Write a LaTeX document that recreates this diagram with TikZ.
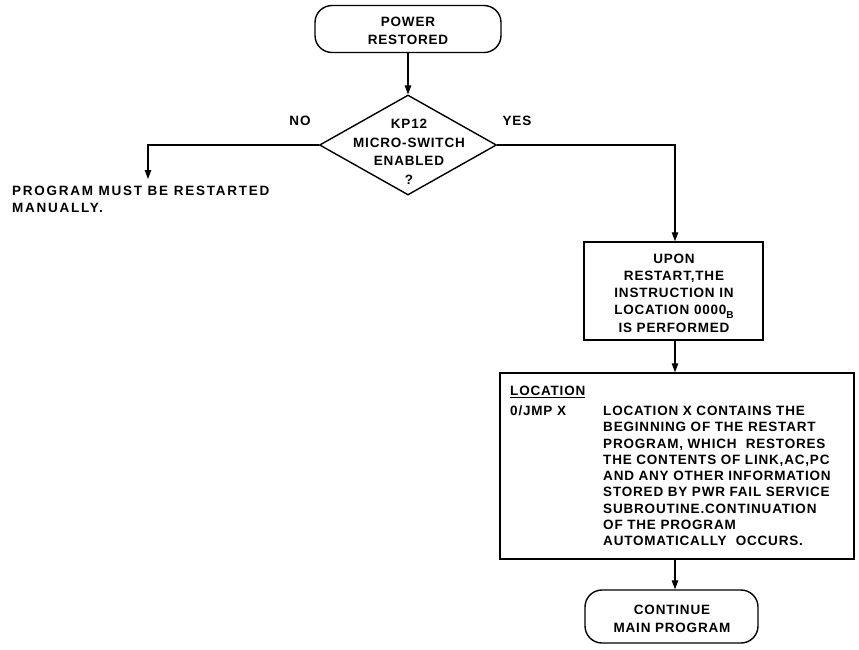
\documentclass[tikz,border=0pt]{standalone}
\usepackage{fontspec}
\setmainfont{Liberation Sans}[LetterSpace=6, BoldFeatures={LetterSpace=6}]
\newfontfamily\widefont{Liberation Sans}[LetterSpace=13, BoldFeatures={LetterSpace=13}]
\usetikzlibrary{shapes.geometric,arrows.meta}
\begin{document}
\begin{tikzpicture}[x=1pt,y=-1pt,
  every node/.style={font=\fontsize{13.5}{16}\selectfont\bfseries, inner sep=0pt},
  term/.style={draw, line width=1.4pt, rectangle, rounded corners=17pt},
  box/.style={draw, line width=1.5pt, rectangle},
  dia/.style={draw, line width=1.4pt, diamond},
  conn/.style={line width=1.1pt},
  arr/.style={conn, -{Triangle[length=9pt,width=6.5pt]}},
  txt/.style={align=center},
  ltxt/.style={align=left, anchor=north west}]
\useasboundingbox (0,0) rectangle (859,649);

\node[term, minimum width=186pt, minimum height=47pt] (power) at (408,29) {};
\node[txt, font=\fontsize{13.5}{18}\selectfont\bfseries] (powert) at (408,31) {POWER\\RESTORED};

\node[dia, minimum width=177pt, minimum height=100pt] (dec) at (408,145) {};
\node[txt, font=\fontsize{13.5}{18.5}\selectfont\bfseries] (dect) at (409,152) {KP12\\MICRO-SWITCH\\ENABLED\\?};

\node (no) at (300,121) {NO};
\node (yes) at (517,121) {YES};

\coordinate (nocorner) at (148,145);
\coordinate (noend) at (148,179);
\node[ltxt, font=\fontsize{13.5}{17}\selectfont\widefont\bfseries] (manual) at (12,186) {PROGRAM MUST BE RESTARTED\\MANUALLY.};

\coordinate (yescorner) at (675,145);

\node[box, minimum width=179pt, minimum height=98pt] (box1) at (673.5,291) {};
\node[txt, font=\fontsize{13.5}{17.3}\selectfont\bfseries] (box1t) at (674,293) {UPON\\RESTART,THE\\INSTRUCTION IN\\LOCATION 0000\raisebox{-4pt}{\fontsize{10}{10}\selectfont\bfseries B}\\IS PERFORMED};

\node[box, minimum width=354pt, minimum height=186pt] (box2) at (677,466) {};
\node[ltxt] (loc) at (510,386) {\underline{LOCATION}};
\node[ltxt, font=\fontsize{13.5}{16.25}\selectfont\bfseries] (jmp) at (510,406) {0/JMP X};
\node[ltxt, font=\fontsize{13.5}{16.25}\selectfont\bfseries] (desc) at (603,406) {LOCATION X CONTAINS THE\\BEGINNING OF THE RESTART\\PROGRAM, WHICH\ \ RESTORES\\THE CONTENTS OF LINK,AC,PC\\AND ANY OTHER INFORMATION\\STORED BY PWR FAIL SERVICE\\SUBROUTINE.CONTINUATION\\OF THE PROGRAM\\AUTOMATICALLY\ \ OCCURS.};

\node[term, minimum width=173pt, minimum height=53pt] (cont) at (671.5,616.5) {};
\node[txt, font=\fontsize{13.5}{18}\selectfont\bfseries] (contt) at (672,619) {CONTINUE\\MAIN PROGRAM};

\draw[arr] (power.south) -- (dec.north);
\draw[arr] (dec.west) -- (nocorner) -- (noend);
\draw[arr] (dec.east) -- (yescorner) -- (yescorner |- box1.north);
\draw[arr] (box1.south -| yescorner) -- (yescorner |- box2.north);
\draw[arr] (box2.south -| yescorner) -- (yescorner |- cont.north);
\end{tikzpicture}
\end{document}
